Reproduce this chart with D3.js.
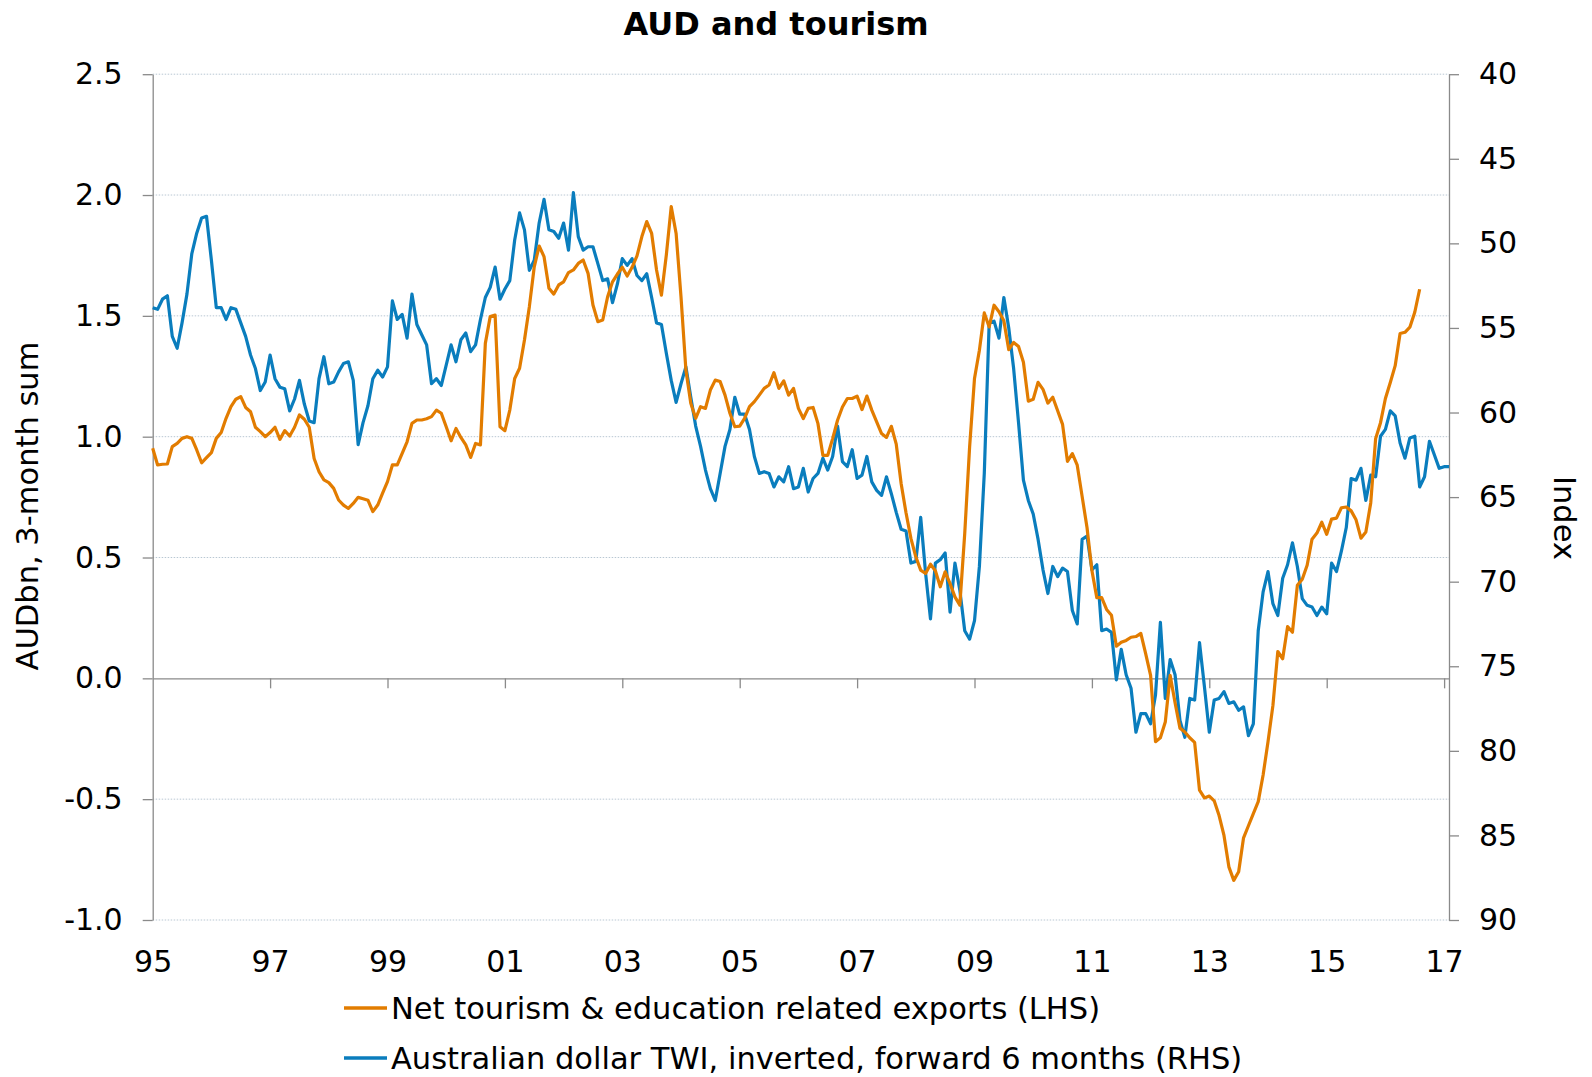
<!DOCTYPE html>
<html>
  <head>
    <meta charset="utf-8">
    <title>AUD and tourism</title>
    <script src="https://cdn.jsdelivr.net/npm/d3@7/dist/d3.min.js"></script>
    <style>
      body { margin: 0; background: #fff; }
      text { font-family: "DejaVu Sans", Verdana, sans-serif; fill: #000; }
    </style>
  </head>
  <body>
    <svg width="1592" height="1077" id="mainsvg"></svg>
    <script>
        // monthly series, first value = Jan 1995
        const startYear = 1995;

        // Net tourism & education related exports, AUDbn 3-month sum (LHS)
        const tourism = [
          0.952, 0.883, 0.886, 0.887, 0.959, 0.972, 0.993, 1.000, 0.993, 0.945, 0.892, 0.913,
          0.934, 0.993, 1.017, 1.076, 1.124, 1.155, 1.166, 1.121, 1.103, 1.039, 1.021, 1.000,
          1.017, 1.039, 0.989, 1.025, 1.003, 1.039, 1.090, 1.072, 1.039, 0.910, 0.855, 0.821,
          0.810, 0.786, 0.738, 0.717, 0.703, 0.724, 0.749, 0.743, 0.737, 0.690, 0.717, 0.766,
          0.814, 0.883, 0.883, 0.931, 0.979, 1.055, 1.069, 1.069, 1.074, 1.083, 1.110, 1.097,
          1.041, 0.983, 1.034, 0.997, 0.966, 0.914, 0.972, 0.966, 1.386, 1.497, 1.503, 1.041,
          1.025, 1.110, 1.241, 1.283, 1.400, 1.538, 1.703, 1.789, 1.745, 1.614, 1.590, 1.628,
          1.641, 1.679, 1.690, 1.717, 1.731, 1.676, 1.545, 1.476, 1.483, 1.579, 1.641, 1.673,
          1.701, 1.665, 1.701, 1.748, 1.828, 1.890, 1.841, 1.690, 1.586, 1.752, 1.952, 1.841,
          1.579, 1.276, 1.138, 1.076, 1.124, 1.117, 1.193, 1.234, 1.228, 1.172, 1.097, 1.041,
          1.044, 1.076, 1.124, 1.145, 1.172, 1.200, 1.214, 1.265, 1.200, 1.231, 1.172, 1.200,
          1.117, 1.075, 1.117, 1.121, 1.054, 0.923, 0.923, 0.992, 1.068, 1.123, 1.158, 1.158,
          1.168, 1.112, 1.168, 1.110, 1.061, 1.013, 0.997, 1.043, 0.969, 0.806, 0.685, 0.579,
          0.503, 0.448, 0.434, 0.472, 0.445, 0.379, 0.441, 0.392, 0.337, 0.303, 0.599, 0.958,
          1.241, 1.358, 1.512, 1.454, 1.544, 1.517, 1.480, 1.360, 1.390, 1.373, 1.308, 1.147,
          1.155, 1.225, 1.196, 1.139, 1.163, 1.107, 1.051, 0.898, 0.930, 0.882, 0.753, 0.624,
          0.446, 0.334, 0.334, 0.285, 0.261, 0.133, 0.149, 0.157, 0.170, 0.173, 0.186, 0.101,
          0.012, -0.262, -0.246, -0.181, 0.012, -0.101, -0.206, -0.222, -0.246, -0.265, -0.463, -0.495,
          -0.487, -0.507, -0.568, -0.650, -0.780, -0.836, -0.800, -0.660, -0.610, -0.560, -0.510, -0.400,
          -0.262, -0.113, 0.111, 0.081, 0.214, 0.191, 0.385, 0.410, 0.468, 0.576, 0.601, 0.646,
          0.596, 0.659, 0.663, 0.706, 0.709, 0.693, 0.656, 0.580, 0.606, 0.726, 0.992, 1.058,
          1.158, 1.224, 1.294, 1.427, 1.432, 1.453, 1.515, 1.610
        ];

        // Australian dollar TWI, inverted, forward 6 months (RHS index)
        const twi = [
          53.8, 53.9, 53.3, 53.1, 55.5, 56.2, 54.7, 53.0, 50.6, 49.4, 48.5, 48.4,
          51.0, 53.8, 53.8, 54.5, 53.8, 53.9, 54.7, 55.5, 56.6, 57.4, 58.7, 58.2,
          56.6, 58.0, 58.5, 58.6, 59.9, 59.2, 58.1, 59.5, 60.5, 60.6, 58.0, 56.7,
          58.3, 58.2, 57.6, 57.1, 57.0, 58.1, 61.9, 60.6, 59.6, 58.0, 57.5, 57.9,
          57.3, 53.4, 54.5, 54.2, 55.6, 53.0, 54.8, 55.4, 56.0, 58.3, 58.0, 58.4,
          57.2, 56.0, 57.0, 55.7, 55.3, 56.4, 56.0, 54.5, 53.2, 52.6, 51.4, 53.3,
          52.7, 52.2, 49.8, 48.2, 49.2, 51.6, 51.0, 48.8, 47.4, 49.2, 49.3, 49.7,
          48.8, 50.4, 47.0, 49.6, 50.4, 50.2, 50.2, 51.2, 52.2, 52.1, 53.5, 52.4,
          50.9, 51.3, 50.9, 51.9, 52.2, 51.8, 53.2, 54.7, 54.8, 56.5, 58.1, 59.4,
          58.3, 57.3, 59.1, 60.8, 62.0, 63.4, 64.5, 65.2, 63.6, 62.0, 61.0, 59.1,
          60.1, 60.1, 61.0, 62.6, 63.6, 63.5, 63.6, 64.4, 63.8, 64.1, 63.2, 64.5,
          64.4, 63.3, 64.7, 63.9, 63.6, 62.7, 63.4, 62.6, 60.8, 62.9, 63.2, 62.2,
          63.9, 63.7, 62.6, 64.1, 64.6, 64.9, 63.8, 64.8, 65.9, 66.9, 67.0, 68.9,
          68.8, 66.2, 69.5, 72.2, 68.9, 68.7, 68.3, 71.8, 68.9, 70.5, 72.9, 73.4,
          72.3, 69.1, 63.6, 54.7, 54.6, 55.6, 53.2, 55.0, 57.4, 60.6, 64.0, 65.2,
          66.0, 67.5, 69.3, 70.7, 69.1, 69.7, 69.2, 69.4, 71.7, 72.5, 67.5, 67.3,
          69.3, 69.0, 72.9, 72.8, 73.0, 75.8, 74.0, 75.5, 76.3, 78.9, 77.8, 77.8,
          78.4, 76.7, 72.4, 76.9, 74.6, 75.5, 78.2, 79.2, 76.9, 77.0, 73.6, 76.2,
          78.9, 77.0, 76.9, 76.5, 77.2, 77.1, 77.6, 77.4, 79.1, 78.4, 72.9, 70.6,
          69.4, 71.3, 72.0, 69.8, 69.0, 67.7, 69.1, 71.0, 71.4, 71.5, 72.0, 71.5,
          71.9, 68.9, 69.4, 68.2, 66.8, 63.9, 64.0, 63.3, 65.2, 63.7, 63.8, 61.4,
          61.0, 59.9, 60.2, 61.8, 62.7, 61.5, 61.4, 64.4, 63.8, 61.7, 62.5, 63.3,
          63.2, 63.2
        ];

        const leftTicks = [2.5, 2.0, 1.5, 1.0, 0.5, 0.0, -0.5, -1.0];
        const rightTicks = [40, 45, 50, 55, 60, 65, 70, 75, 80, 85, 90];
        const yearTicks = [1995, 1997, 1999, 2001, 2003, 2005, 2007, 2009, 2011, 2013, 2015, 2017];
        const seriesNames = ['Net tourism & education related exports (LHS)',
                             'Australian dollar TWI, inverted, forward 6 months (RHS)'];
        const colors = ['#e27c00', '#0a7dbd'];

        const svg = d3.select('#mainsvg');
        const margin = {top: 74.2, left: 152.7, right: 143, bottom: 157};
        const innerWidth = 1449 - margin.left;
        const innerHeight = 920 - margin.top;

        const xScale = d3.scaleLinear()
          .domain([startYear, startYear + 265 / 12])
          .range([0, innerWidth]);
        const yLeft = d3.scaleLinear().domain([-1, 2.5]).range([innerHeight, 0]);
        const yRight = d3.scaleLinear().domain([90, 40]).range([innerHeight, 0]);

        const g = svg.append('g')
          .attr('transform', `translate(${margin.left}, ${margin.top})`);

        // dotted gridlines
        g.append('g').selectAll('line')
          .data(leftTicks.filter(d => d !== 0))
          .join('line')
          .attr('x1', 0).attr('x2', innerWidth)
          .attr('y1', d => yLeft(d)).attr('y2', d => yLeft(d))
          .attr('stroke', '#b9c7d3')
          .attr('stroke-width', 1)
          .attr('stroke-dasharray', '1.5,1.5');

        const axisColor = '#8a8a8a';
        const fontSize = 30;

        const leftAxis = g.append('g')
          .call(d3.axisLeft(yLeft).tickValues(leftTicks).tickFormat(d => d.toFixed(1))
            .tickSize(10).tickSizeOuter(0).tickPadding(20));

        const rightAxis = g.append('g')
          .attr('transform', `translate(${innerWidth}, 0)`)
          .call(d3.axisRight(yRight).tickValues(rightTicks)
            .tickSize(10).tickSizeOuter(0).tickPadding(20));

        // zero line with year ticks hanging below it
        const zeroAxis = g.append('g')
          .attr('transform', `translate(0, ${yLeft(0)})`)
          .call(d3.axisBottom(xScale).tickValues(yearTicks.slice(1)).tickFormat('')
            .tickSize(10).tickSizeOuter(0));
        zeroAxis.selectAll('.tick text').remove();

        // year labels at the bottom
        const labelAxis = g.append('g')
          .attr('transform', `translate(0, ${innerHeight})`)
          .call(d3.axisBottom(xScale).tickValues(yearTicks)
            .tickFormat(d => String(d).slice(2)).tickSize(0).tickPadding(31));
        labelAxis.select('.domain').remove();

        [leftAxis, rightAxis, zeroAxis].forEach(a => {
          a.selectAll('path, line').attr('stroke', axisColor).attr('stroke-width', 1.3);
        });
        g.selectAll('.tick text').attr('font-size', fontSize)
          .attr('font-family', '"DejaVu Sans", Verdana, sans-serif').attr('fill', '#000');

        // lines
        const lineLeft = d3.line()
          .x((d, i) => xScale(startYear + i / 12))
          .y(d => yLeft(d));
        const lineRight = d3.line()
          .x((d, i) => xScale(startYear + i / 12))
          .y(d => yRight(d));

        g.append('path').datum(twi)
          .attr('d', lineRight)
          .attr('fill', 'none').attr('stroke', colors[1])
          .attr('stroke-width', 3.2).attr('stroke-linejoin', 'round');

        g.append('path').datum(tourism)
          .attr('d', lineLeft)
          .attr('fill', 'none').attr('stroke', colors[0])
          .attr('stroke-width', 3.2).attr('stroke-linejoin', 'round');

        // title and axis titles
        svg.append('text').text('AUD and tourism')
          .attr('x', 776).attr('y', 35)
          .attr('text-anchor', 'middle')
          .attr('font-size', 32).attr('font-weight', 'bold');

        svg.append('text').text('AUDbn, 3-month sum')
          .attr('transform', 'translate(38, 506) rotate(-90)')
          .attr('text-anchor', 'middle')
          .attr('font-size', 30.5);

        svg.append('text').text('Index')
          .attr('transform', 'translate(1554, 518) rotate(90)')
          .attr('text-anchor', 'middle')
          .attr('font-size', 30.5);

        // legend
        const legend = svg.append('g');
        seriesNames.forEach((name, i) => {
          const y = 1008 + i * 50;
          legend.append('line')
            .attr('x1', 344).attr('x2', 387)
            .attr('y1', y).attr('y2', y)
            .attr('stroke', colors[i]).attr('stroke-width', 3.5);
          legend.append('text').text(name)
            .attr('x', 391).attr('y', y + 11)
            .attr('font-size', 30.5);
        });
    </script>
  </body>
</html>
